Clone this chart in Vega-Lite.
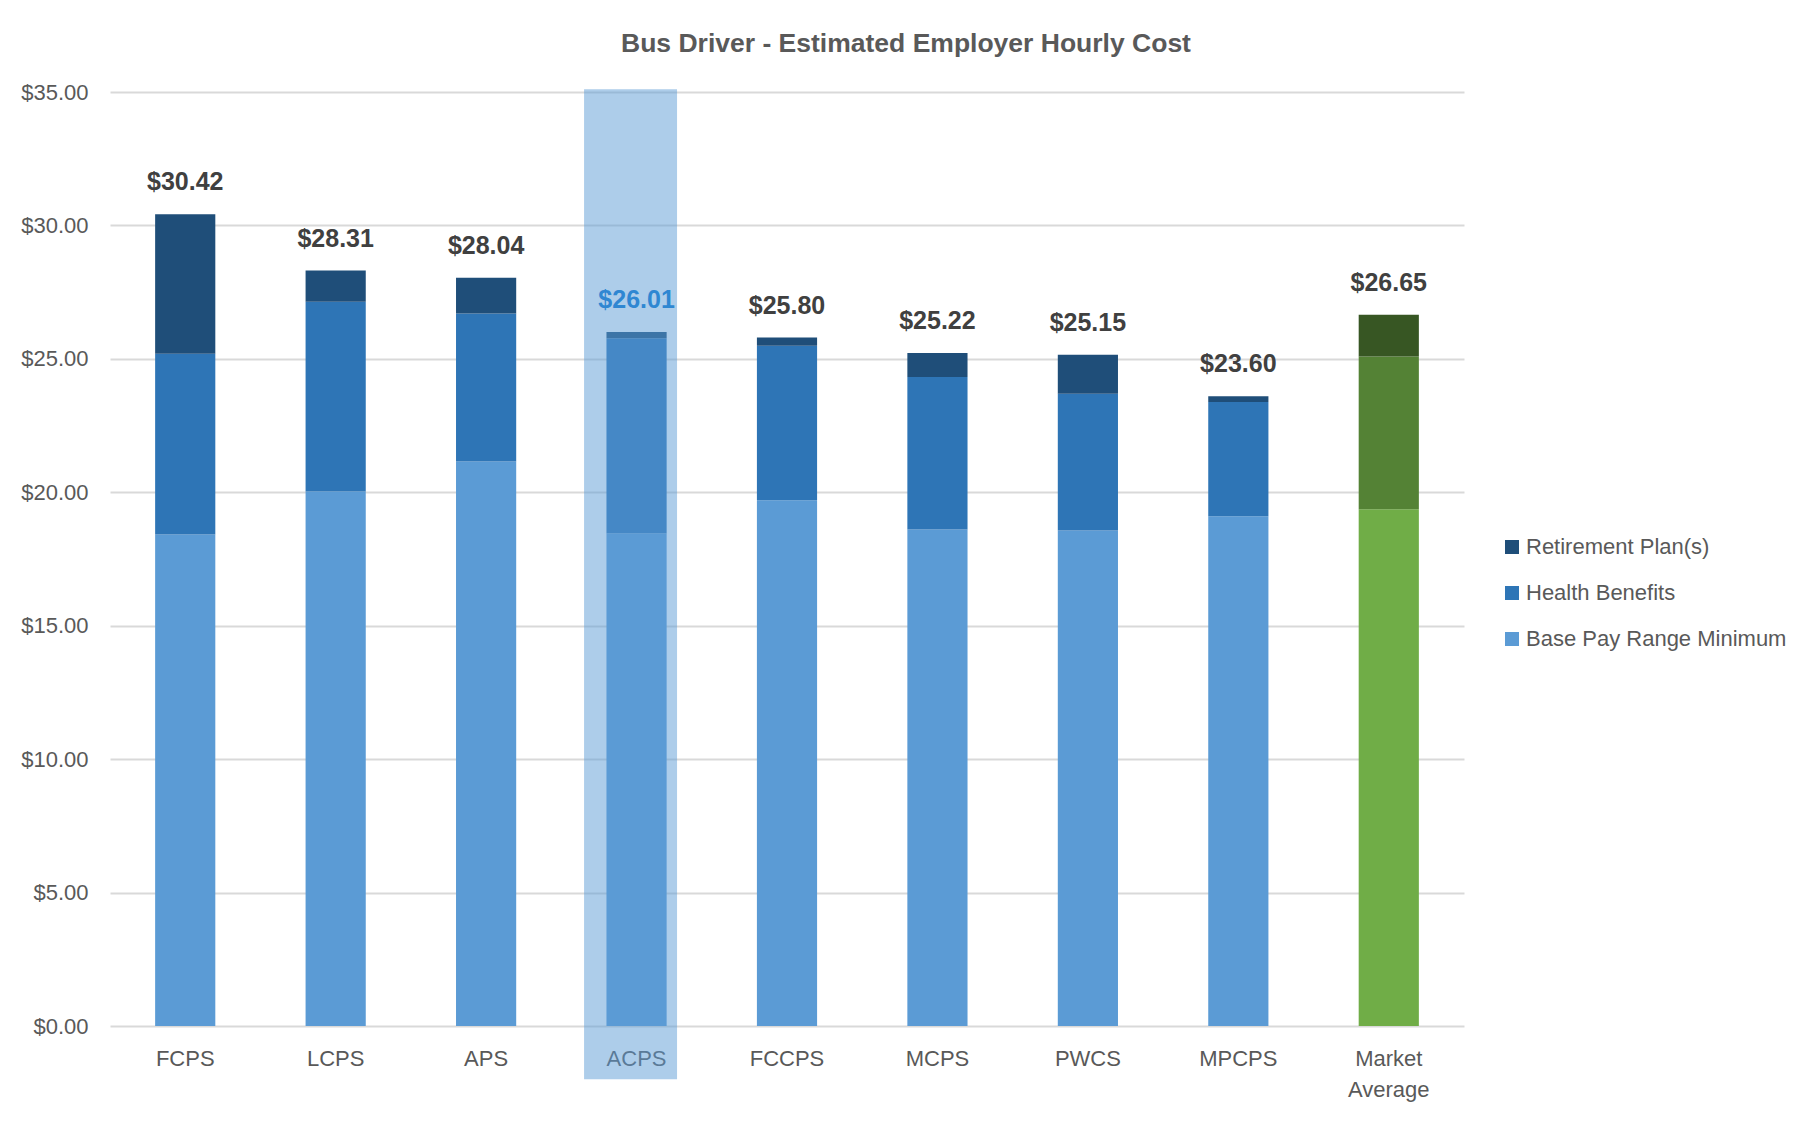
{
  "$schema": "https://vega.github.io/schema/vega-lite/v6.json",
  "autosize": {"type": "none"},
  "width": 1354,
  "height": 934,
  "padding": {"left": 110, "top": 92, "right": 346, "bottom": 95},
  "background": "white",
  "title": {
    "text": "Bus Driver - Estimated Employer Hourly Cost",
    "font": "Liberation Sans",
    "fontSize": 26.5,
    "fontWeight": "bold",
    "color": "#595959",
    "anchor": "middle",
    "frame": "group",
    "dx": 119,
    "offset": 24
  },
  "config": {
    "view": {"stroke": null},
    "font": "Liberation Sans"
  },
  "datasets": {
    "costs": [
      {"district": "FCPS", "component": "Base Pay Range Minimum", "value": 18.42},
      {"district": "FCPS", "component": "Health Benefits", "value": 6.77},
      {"district": "FCPS", "component": "Retirement Plan(s)", "value": 5.23},
      {"district": "LCPS", "component": "Base Pay Range Minimum", "value": 20.03},
      {"district": "LCPS", "component": "Health Benefits", "value": 7.11},
      {"district": "LCPS", "component": "Retirement Plan(s)", "value": 1.17},
      {"district": "APS", "component": "Base Pay Range Minimum", "value": 21.15},
      {"district": "APS", "component": "Health Benefits", "value": 5.55},
      {"district": "APS", "component": "Retirement Plan(s)", "value": 1.34},
      {"district": "ACPS", "component": "Base Pay Range Minimum", "value": 18.46},
      {"district": "ACPS", "component": "Health Benefits", "value": 7.31},
      {"district": "ACPS", "component": "Retirement Plan(s)", "value": 0.24},
      {"district": "FCCPS", "component": "Base Pay Range Minimum", "value": 19.70},
      {"district": "FCCPS", "component": "Health Benefits", "value": 5.79},
      {"district": "FCCPS", "component": "Retirement Plan(s)", "value": 0.31},
      {"district": "MCPS", "component": "Base Pay Range Minimum", "value": 18.61},
      {"district": "MCPS", "component": "Health Benefits", "value": 5.71},
      {"district": "MCPS", "component": "Retirement Plan(s)", "value": 0.90},
      {"district": "PWCS", "component": "Base Pay Range Minimum", "value": 18.57},
      {"district": "PWCS", "component": "Health Benefits", "value": 5.12},
      {"district": "PWCS", "component": "Retirement Plan(s)", "value": 1.46},
      {"district": "MPCPS", "component": "Base Pay Range Minimum", "value": 19.10},
      {"district": "MPCPS", "component": "Health Benefits", "value": 4.28},
      {"district": "MPCPS", "component": "Retirement Plan(s)", "value": 0.22},
      {"district": "Market Average", "component": "Base Pay Range Minimum", "value": 19.36},
      {"district": "Market Average", "component": "Health Benefits", "value": 5.73},
      {"district": "Market Average", "component": "Retirement Plan(s)", "value": 1.56}
    ],
    "totals": [
      {"district": "FCPS", "total": 30.42},
      {"district": "LCPS", "total": 28.31},
      {"district": "APS", "total": 28.04},
      {"district": "ACPS", "total": 26.01},
      {"district": "FCCPS", "total": 25.80},
      {"district": "MCPS", "total": 25.22},
      {"district": "PWCS", "total": 25.15},
      {"district": "MPCPS", "total": 23.60},
      {"district": "Market Average", "total": 26.65}
    ]
  },
  "encoding": {
    "x": {
      "field": "district",
      "type": "nominal",
      "sort": ["FCPS", "LCPS", "APS", "ACPS", "FCCPS", "MCPS", "PWCS", "MPCPS", "Market Average"],
      "scale": {"paddingInner": 0.6, "paddingOuter": 0.3},
      "axis": {
        "title": null,
        "labelAngle": 0,
        "domain": false,
        "ticks": false,
        "labelFontSize": 22,
        "labelColor": "#595959",
        "labelPadding": 22,
        "labelLineHeight": 31,
        "labelExpr": "datum.value == 'Market Average' ? ['Market', 'Average'] : datum.value",
        "zindex": 0
      }
    }
  },
  "layer": [
    {
      "data": {"name": "costs"},
      "transform": [{"filter": "datum.district != 'Market Average'"}],
      "mark": {"type": "bar"},
      "encoding": {
        "y": {
          "field": "value",
          "type": "quantitative",
          "stack": "zero",
          "scale": {"domain": [0, 35], "nice": false},
          "axis": {
            "title": null,
            "values": [0, 5, 10, 15, 20, 25, 30, 35],
            "format": "$,.2f",
            "grid": true,
            "gridColor": "#D9D9D9",
            "gridWidth": 2,
            "domain": false,
            "ticks": false,
            "labelFontSize": 22,
            "labelColor": "#595959",
            "labelPadding": 22,
            "zindex": 0
          }
        },
        "order": {"field": "component", "sort": "ascending"},
        "color": {
          "field": "component",
          "type": "nominal",
          "scale": {
            "domain": ["Retirement Plan(s)", "Health Benefits", "Base Pay Range Minimum"],
            "range": ["#1F4E79", "#2E75B6", "#5B9BD5"]
          },
          "legend": {
            "title": null,
            "orient": "none",
            "legendX": 1391,
            "legendY": 444,
            "symbolType": "square",
            "symbolSize": 196,
            "symbolStrokeWidth": 0,
            "labelFontSize": 22,
            "labelColor": "#595959",
            "labelOffset": 3,
            "labelLimit": 500,
            "rowPadding": 24
          }
        }
      }
    },
    {
      "data": {"name": "costs"},
      "transform": [{"filter": "datum.district == 'Market Average'"}],
      "mark": {"type": "bar"},
      "encoding": {
        "y": {"field": "value", "type": "quantitative", "stack": "zero", "title": null},
        "order": {"field": "component", "sort": "ascending"},
        "color": {
          "field": "component",
          "type": "nominal",
          "scale": {
            "domain": ["Retirement Plan(s)", "Health Benefits", "Base Pay Range Minimum"],
            "range": ["#375623", "#548235", "#70AD47"]
          },
          "legend": null
        }
      }
    },
    {
      "data": {"name": "totals"},
      "transform": [{"filter": "datum.district != 'ACPS'"}],
      "mark": {"type": "text", "dy": -24, "baseline": "alphabetic", "fontSize": 25, "fontWeight": "bold", "color": "#404040"},
      "encoding": {
        "y": {"field": "total", "type": "quantitative", "title": null},
        "text": {"field": "total", "type": "quantitative", "format": "$,.2f"}
      }
    },
    {
      "data": {"name": "totals"},
      "transform": [{"filter": "datum.district == 'ACPS'"}],
      "mark": {"type": "bar", "color": "#5B9BD5", "opacity": 0.5, "width": {"band": 1.545}, "xOffset": -6},
      "encoding": {
        "y": {"datum": 35.1, "type": "quantitative", "title": null},
        "y2": {"datum": -2.0}
      }
    },
    {
      "data": {"name": "totals"},
      "transform": [{"filter": "datum.district == 'ACPS'"}],
      "mark": {"type": "text", "dy": -24, "baseline": "alphabetic", "fontSize": 25, "fontWeight": "bold", "color": "#2F87D2"},
      "encoding": {
        "y": {"field": "total", "type": "quantitative", "title": null},
        "text": {"field": "total", "type": "quantitative", "format": "$,.2f"}
      }
    }
  ],
  "resolve": {"scale": {"color": "independent"}}
}
